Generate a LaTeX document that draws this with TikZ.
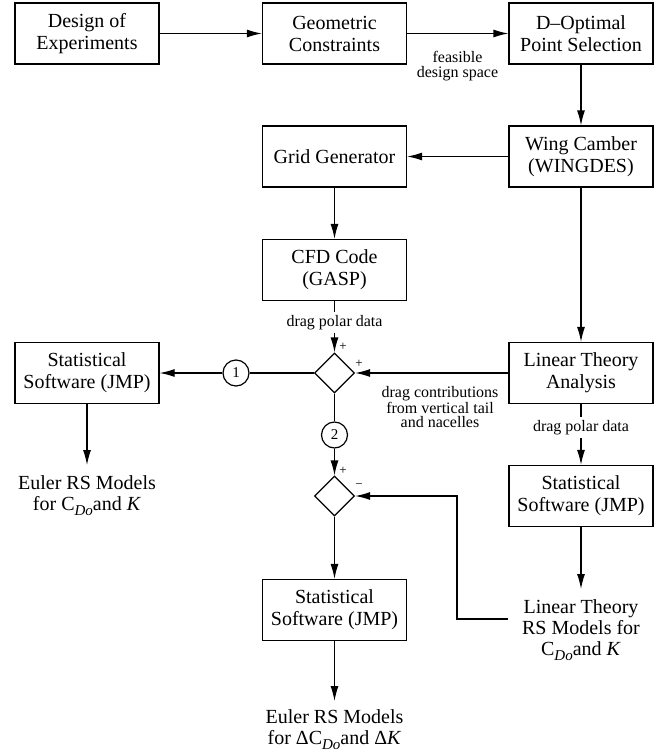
\documentclass[tikz,border=0pt]{standalone}
\usepackage{fontspec}
\setmainfont{Liberation Serif}
\usetikzlibrary{shapes.geometric, arrows.meta, calc}
\newcommand\mysubDo{\raisebox{-5.5pt}{\fontsize{15}{15}\selectfont\textit{Do}}}
\begin{document}
\begin{tikzpicture}[x=1pt, y=-1pt,
  box/.style={draw, line width=1.2pt, minimum width=144pt, minimum height=61pt, align=center, font=\fontsize{20}{22}\selectfont, inner sep=2pt},
  sumnode/.style={draw, diamond, line width=1.2pt, minimum size=40pt, inner sep=0pt},
  num/.style={draw, circle, line width=1.2pt, minimum size=26pt, inner sep=0pt, font=\fontsize{15}{15}\selectfont},
  lbl/.style={font=\fontsize{16}{14.5}\selectfont, align=center},
  sgn/.style={font=\fontsize{13}{13}\selectfont, inner sep=0pt},
  arr/.style={line width=1.2pt, -{Latex[length=15pt,width=8pt]}},
  ln/.style={line width=1.2pt},
  txt/.style={font=\fontsize{20}{21}\selectfont, align=center, inner sep=0pt, inner ysep=10pt, anchor=north}
]
\useasboundingbox (0,0) rectangle (660,752);

\node[box] (doe) at (87,33.5) {Design of\\Experiments};
\node[box] (geo) at (334.5,33.5) {Geometric\\Constraints};
\node[box] (dopt) at (581,33.5) {D–Optimal\\Point Selection};
\node[box] (wing) at (581,156.5) {Wing Camber\\(WINGDES)};
\node[box] (grid) at (334.5,156.5) {Grid Generator};
\node[box] (cfd) at (334.5,270) {CFD Code\\(GASP)};
\node[box] (statL) at (87,373) {Statistical\\Software (JMP)};
\node[box] (lin) at (581,373) {Linear Theory\\Analysis};
\node[box] (statR) at (581,496) {Statistical\\Software (JMP)};
\node[box] (statM) at (334.5,610) {Statistical\\Software (JMP)};

\node[sumnode] (d1) at (334.5,373) {};
\node[sumnode] (d2) at (334.5,496) {};
\node[num] (c1) at (236,373) {1};
\node[num] (c2) at (334.5,435) {2};

\node[txt] (eulerL) at (87,465) {Euler RS Models\\for C\mysubDo and \textit{K}};
\node[txt, inner ysep=0pt] (eulerM) at (334.5,709) {Euler RS Models\\for ΔC\mysubDo and Δ\textit{K}};
\node[txt] (linRS) at (581,589) {Linear Theory\\RS Models for\\C\mysubDo and \textit{K}};

\node[lbl] (fds) at (457.5,66) {feasible\\design space};
\node[lbl] (dc) at (440,407) {drag contributions\\from vertical tail\\and nacelles};

\node[sgn] (p1) at (343,347) {+};
\node[sgn] (p2) at (359,364) {+};
\node[sgn] (p3) at (343,471) {+};
\node[sgn] (m1) at (359,486) {−};

\coordinate (fbs) at (508,619);
\coordinate (fbc) at (457,496);

\draw[arr] (doe) -- (geo);
\draw[arr] (geo) -- (dopt);
\draw[arr] (dopt) -- (wing);
\draw[arr] (wing) -- (grid);
\draw[arr] (grid) -- (cfd);
\draw[arr] (cfd) -- node[lbl, fill=white, pos=0.42] {drag polar data} (d1);
\draw[arr] (wing) -- (lin);
\draw[arr] (lin) -- (d1);
\draw[ln] (d1) -- (c1);
\draw[arr] (c1) -- (statL);
\draw[ln] (d1) -- (c2);
\draw[arr] (c2) -- (d2);
\draw[arr] (d2) -- (statM);
\draw[arr, shorten >=8pt] (statM) -- (eulerM);
\draw[arr] (statL) -- (eulerL);
\draw[arr] (lin) -- node[lbl, fill=white, pos=0.39] {drag polar data} (statR);
\draw[arr] (statR) -- (linRS);
\draw[arr] (fbs) -| (fbc) -- (d2.east);
\end{tikzpicture}
\end{document}
